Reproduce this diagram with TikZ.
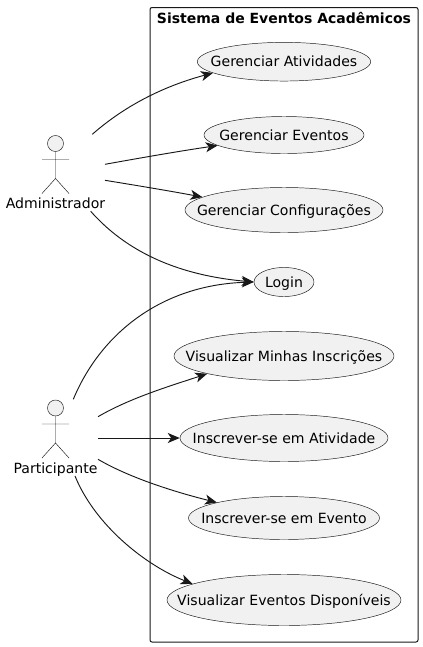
\documentclass[tikz,border=0pt]{standalone}
\usepackage{fontspec}
\setmainfont{DejaVu Sans}
\usetikzlibrary{arrows.meta,shapes.geometric}
\definecolor{linegray}{HTML}{181818}
\definecolor{fillgray}{HTML}{F1F1F1}
\newcommand{\casetext}[1]{\makebox[0pt]{#1}}
\tikzset{
  usecase/.style={draw=linegray, line width=.35pt, fill=fillgray, ellipse, inner sep=0pt, text height=9.6pt, text depth=2pt, font=\fontsize{10.55}{12}\selectfont},
  actorlabel/.style={inner sep=0pt, text height=9.6pt, text depth=2pt, font=\fontsize{10.55}{12}\selectfont},
  assoc/.style={draw=linegray, line width=.7pt, -{Stealth[length=9pt,width=7.5pt,inset=2.5pt]}},
  stickman/.pic={
    \draw [draw=linegray, line width=.35pt, fill=fillgray] (0,-16) circle [radius=6pt];
    \draw [draw=linegray, line width=.35pt] (0,-8) -- (0,19) (-13.5,0) -- (13.5,0) (-13.5,34) -- (0,19) -- (13.5,34);
  }
}
\begin{document}
\begin{tikzpicture}[x=.75pt,y=-.75pt]
\useasboundingbox (0,0) rectangle (423,647);

\draw [draw=linegray, line width=.75pt, rounded corners=1.5pt] (150,7.5) rectangle (418,642);
\node (systemtitle) [inner sep=0pt, font=\bfseries\fontsize{10.5}{12}\selectfont] at (284,17.5) {Sistema de Eventos Acadêmicos};

% casos de uso
\node (atividades) [usecase, minimum width=130pt, minimum height=29pt] at (284,61.7) {\casetext{Gerenciar Atividades}};
\node (eventos) [usecase, minimum width=120pt, minimum height=27.75pt] at (284,135) {\casetext{Gerenciar Eventos}};
\node (config) [usecase, minimum width=148.5pt, minimum height=33.75pt] at (284,210) {\casetext{Gerenciar Configurações}};
\node (login) [usecase, minimum width=45pt, minimum height=21.75pt] at (284,282) {\casetext{Login}};
\node (minhas) [usecase, minimum width=165pt, minimum height=36.75pt] at (284,356) {\casetext{Visualizar Minhas Inscrições}};
\node (inscativ) [usecase, minimum width=156pt, minimum height=35.25pt] at (284,438) {\casetext{Inscrever-se em Atividade}};
\node (inscevento) [usecase, minimum width=143.25pt, minimum height=32.25pt] at (284,518) {\casetext{Inscrever-se em Evento}};
\node (disponiveis) [usecase, minimum width=175.5pt, minimum height=38.25pt] at (284,600) {\casetext{Visualizar Eventos Disponíveis}};

% atores
\pic at (55.5,159.5) {stickman};
\node (admin) [actorlabel] at (55.5,203) {Administrador};
\pic at (55.5,424) {stickman};
\node (part) [actorlabel] at (55.5,468) {Participante};

\coordinate (adminA) at (92.3,134.3);
\coordinate (adminB) at (105,164.3);
\coordinate (adminC) at (105,180.3);
\coordinate (adminD) at (90.7,211.3);
\coordinate (partA) at (73.3,399.3);
\coordinate (partB) at (98,416.7);
\coordinate (partC) at (98,438);
\coordinate (partD) at (98,459.3);
\coordinate (partE) at (75,476);

\draw [assoc] (adminA) .. controls (128,103) and (168,85) .. (atividades.189);
\draw [assoc] (adminB) .. controls (140,158) and (180,151) .. (eventos.189);
\draw [assoc] (adminC) .. controls (140,186) and (170,191) .. (config.171);
\draw [assoc] (adminD) .. controls (125,250) and (175,275) .. (login.180);
\draw [assoc] (partA) .. controls (100,335) and (160,285) .. (login.180);
\draw [assoc] (partB) .. controls (130,398) and (170,386) .. (minhas.193);
\draw [assoc] (partC) -- (inscativ.180);
\draw [assoc] (partD) .. controls (130,478) and (175,492) .. (inscevento.167);
\draw [assoc] (partE) .. controls (95,525) and (145,565) .. (disponiveis.170);
\end{tikzpicture}
\end{document}
